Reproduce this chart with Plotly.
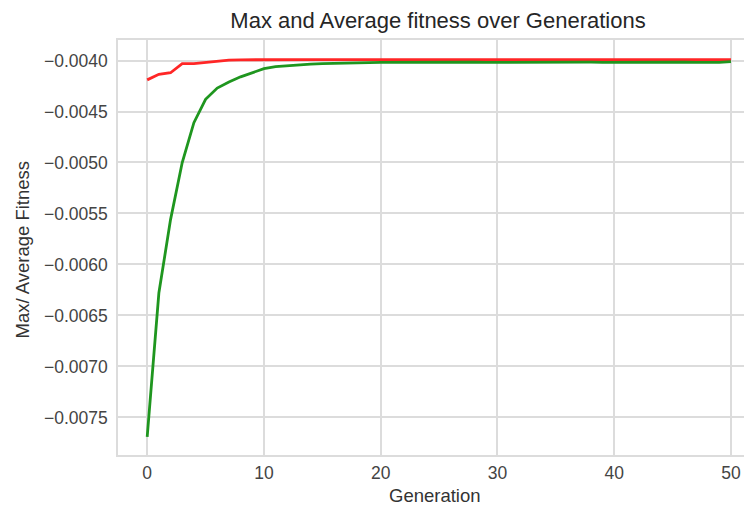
import plotly.graph_objects as go

generations = list(range(51))

max_fitness = [
    -0.00419, -0.004135, -0.00412, -0.00403, -0.00403, -0.00402, -0.004003, -0.003997,
    -0.003993, -0.003992, -0.003992, -0.003992, -0.003992, -0.003992, -0.003992, -0.003992,
    -0.003992, -0.003992, -0.003992, -0.003992, -0.003992, -0.003992, -0.003992, -0.003992,
    -0.003992, -0.003992, -0.003992, -0.003992, -0.003992, -0.003992, -0.003992, -0.003992,
    -0.003992, -0.003992, -0.003992, -0.003992, -0.003992, -0.003992, -0.003992, -0.003992,
    -0.003992, -0.003992, -0.003992, -0.003992, -0.003992, -0.003992, -0.003992, -0.003992,
    -0.003992, -0.003992, -0.003992,
]

avg_fitness = [
    -0.00769, -0.00628, -0.00556, -0.00500, -0.00461, -0.00438, -0.00427, -0.00421,
    -0.00416, -0.00412, -0.00408, -0.00406, -0.00405, -0.00404, -0.004035, -0.00403,
    -0.004026, -0.004023, -0.004021, -0.00402, -0.004019, -0.004018, -0.004016, -0.004017,
    -0.004015, -0.004017, -0.004018, -0.004016, -0.004017, -0.004019, -0.004018, -0.00402,
    -0.004019, -0.004017, -0.004018, -0.004016, -0.004015, -0.004017, -0.004016, -0.004018,
    -0.004017, -0.004016, -0.004018, -0.004017, -0.004015, -0.004018, -0.004016, -0.004019,
    -0.00402, -0.004018, -0.004012,
]

title_text = "Max and Average fitness over Generations"
x_label = "Generation"
y_label = "Max/ Average Fitness"
y_ticks = [-0.0075, -0.0070, -0.0065, -0.0060, -0.0055, -0.0050, -0.0045, -0.0040]
x_ticks = [0, 10, 20, 30, 40, 50]

FONT = "Liberation Sans, Arial, sans-serif"
GRID = "#dcdcdc"

# The page body adds an 8px offset, so the figure is sized 744x497.
W, H = 744, 497

fig = go.Figure()
fig.add_trace(go.Scatter(x=generations, y=max_fitness, mode="lines",
                         line=dict(color="#ff2626", width=2.8), name="Max"))
fig.add_trace(go.Scatter(x=generations, y=avg_fitness, mode="lines",
                         line=dict(color="#1f961f", width=2.8), name="Average"))

fig.update_layout(
    width=W, height=H,
    margin=dict(l=110, r=0, t=32, b=50, autoexpand=False),
    paper_bgcolor="white", plot_bgcolor="white",
    showlegend=False,
    font=dict(family=FONT, color="#333333"),
    title=dict(text=title_text, x=0.578, xanchor="center", y=1 - 12 / H, yanchor="middle",
               font=dict(size=22, color="#262626", family=FONT)),
    xaxis=dict(
        range=[-2.5, 51.8], tickvals=x_ticks, ticktext=[str(v) for v in x_ticks],
        showgrid=True, gridcolor=GRID, gridwidth=1.5, zeroline=False,
        showline=True, linecolor=GRID, linewidth=1.5, mirror=True,
        ticks="outside", ticklen=1, tickcolor="rgba(0,0,0,0)",
        tickfont=dict(size=17.5, color="#444444"), automargin=False,
    ),
    yaxis=dict(
        range=[-0.007868, -0.003799], tickvals=y_ticks, tickformat=".4f",
        showgrid=True, gridcolor=GRID, gridwidth=1.5, zeroline=False,
        showline=True, linecolor=GRID, linewidth=1.5, mirror=False,
        ticks="outside", ticklen=5, tickcolor="rgba(0,0,0,0)",
        tickfont=dict(size=17.5, color="#444444"), automargin=False,
    ),
    annotations=[
        dict(text=x_label, xref="paper", yref="paper", x=0.4995, y=0, xshift=0,
             yshift=-40, xanchor="center", yanchor="middle", showarrow=False,
             font=dict(size=18.5, color="#333333", family=FONT)),
        dict(text=y_label, xref="paper", yref="paper", x=0, y=0.5, xshift=-96,
             yshift=-2, xanchor="center", yanchor="middle", textangle=-90, showarrow=False,
             font=dict(size=18.5, color="#333333", family=FONT)),
    ],
)

fig.write_html("out.html")
